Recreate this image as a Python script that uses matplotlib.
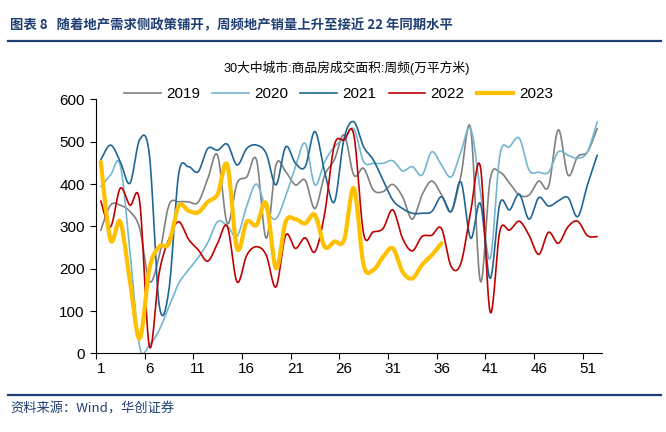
import numpy as np
import matplotlib
matplotlib.use('Agg')
import matplotlib.pyplot as plt
from matplotlib.lines import Line2D

plt.rcParams['font.family'] = ['Liberation Sans', 'Noto Sans CJK SC', 'DejaVu Sans']

# weekly values (万平方米)
weeks = list(range(1, 53))
y2019 = [291, 350, 350, 335, 295, 170, 230, 350, 358, 358,
         357, 413, 468, 307, 402, 417, 457, 272, 445, 429,
         398, 409, 342, 421, 457, 516, 421, 437, 386, 382,
         399, 370, 317, 374, 407, 375, 335, 420, 531, 170,
         410, 428, 402, 374, 374, 407, 394, 528, 421, 465,
         476, 531]
y2020 = [394, 421, 445, 240, 15, 20, 55, 110, 165, 197,
         226, 262, 311, 301, 277, 348, 400, 340, 318, 372,
         441, 496, 398, 453, 488, 508, 530, 453, 449, 449,
         455, 431, 441, 421, 476, 445, 417, 476, 531, 382,
         224, 468, 488, 508, 433, 428, 428, 476, 468, 461,
         476, 547]
y2021 = [457, 492, 453, 402, 505, 468, 115, 150, 423, 441,
         429, 484, 480, 494, 445, 484, 492, 472, 398, 488,
         449, 441, 524, 429, 358, 508, 547, 488, 457, 409,
         362, 342, 331, 331, 335, 370, 335, 405, 272, 354,
         177, 354, 339, 376, 317, 368, 348, 360, 368, 323,
         398, 468]
y2022 = [360, 299, 390, 350, 358, 16, 190, 270, 311, 270,
         245, 218, 260, 300, 169, 232, 252, 232, 157, 279,
         248, 273, 240, 330, 492, 504, 516, 283, 287, 295,
         339, 272, 242, 276, 279, 295, 205, 213, 335, 441,
         98, 289, 291, 312, 279, 234, 286, 260, 299, 312,
         278, 276]
y2023 = [452, 268, 311, 170, 35, 200, 252, 260, 348, 337,
         333, 358, 376, 445, 248, 311, 303, 354, 201, 311,
         317, 307, 327, 252, 264, 268, 390, 209, 197, 228,
         248, 193, 177, 209, 232, 260]

series = [('2019', y2019, '#808080', 1.2),
          ('2020', y2020, '#74B5D2', 1.2),
          ('2021', y2021, '#1F6694', 1.2),
          ('2022', y2022, '#C00000', 1.2),
          ('2023', y2023, '#FFC000', 3.0)]


def smooth(x, y, n=16):
    # Excel-style smoothed line (Catmull-Rom through the data points)
    x = np.asarray(x, float)
    y = np.asarray(y, float)
    px = np.concatenate([[x[0]], x, [x[-1]]])
    py = np.concatenate([[y[0]], y, [y[-1]]])
    xs, ys = [], []
    t = np.linspace(0, 1, n, endpoint=False)
    for i in range(1, len(px) - 2):
        for arr, out in ((px, xs), (py, ys)):
            p0, p1, p2, p3 = arr[i - 1], arr[i], arr[i + 1], arr[i + 2]
            out.extend(0.5 * (2 * p1 + (-p0 + p2) * t
                              + (2 * p0 - 5 * p1 + 4 * p2 - p3) * t ** 2
                              + (-p0 + 3 * p1 - 3 * p2 + p3) * t ** 3))
    xs.append(x[-1])
    ys.append(y[-1])
    return np.array(xs), np.array(ys)


fig = plt.figure(figsize=(6.66, 4.32), dpi=100)
ax = fig.add_axes([0.144, 0.182, 0.76, 0.588])

handles = []
for name, vals, color, lw in series:
    sx, sy = smooth(weeks[:len(vals)], vals)
    ax.plot(sx, sy, color=color, lw=lw, solid_capstyle='round')
    handles.append(Line2D([], [], color=color, lw=lw, label=name))

ax.set_xlim(0.5, 52.5)
ax.set_ylim(0, 600)
ax.set_yticks(range(0, 601, 100))
ax.set_xticks(range(1, 53, 5))
ax.set_xticks(np.arange(0.5, 51, 5), minor=True)
ax.tick_params(axis='x', which='major', length=0, labelsize=11, pad=6)
ax.tick_params(axis='x', which='minor', length=4, width=0.8, direction='out')
ax.tick_params(axis='y', length=4, width=0.8, labelsize=11, pad=4)
for s in ('top', 'right'):
    ax.spines[s].set_visible(False)
for s in ('left', 'bottom'):
    ax.spines[s].set_linewidth(0.8)

fig.legend(handles=handles, loc='center', bbox_to_anchor=(0.508, 0.782), ncol=5,
           frameon=False, fontsize=11, handlelength=2.4, handletextpad=0.35,
           columnspacing=0.8)

navy = '#1F3F74'
fig.text(0.015, 0.942, '图表 8   随着地产需求侧政策铺开，周频地产销量上升至接近 22 年同期水平',
         color=navy, fontsize=9.6, fontweight='bold', va='center',
         family=['Noto Sans CJK SC', 'DejaVu Sans'])
fig.add_artist(Line2D([0.012, 0.992], [0.906, 0.906], color=navy, lw=1.6))
fig.text(0.52, 0.843, '30大中城市:商品房成交面积:周频(万平方米)', fontsize=9.2,
         ha='center', va='center')
fig.add_artist(Line2D([0.012, 0.992], [0.086, 0.086], color=navy, lw=1.6))
fig.text(0.015, 0.053, '资料来源：Wind，华创证券', color=navy, fontsize=9.5,
         style='italic', va='center', family=['Noto Sans CJK SC', 'DejaVu Sans'])

fig.savefig('out.png', dpi=100)
